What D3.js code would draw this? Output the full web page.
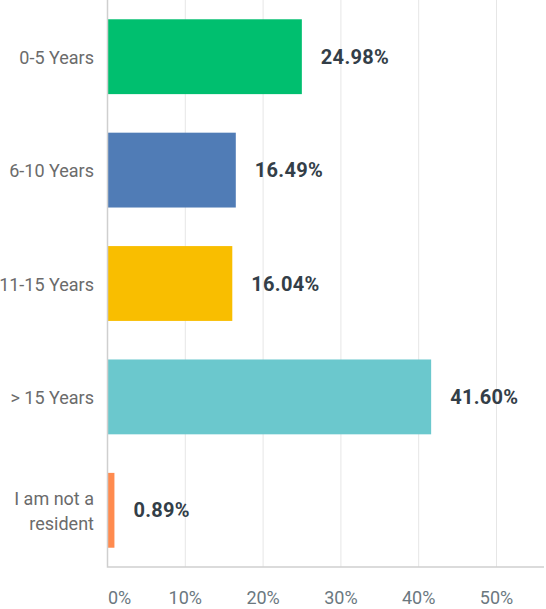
<!DOCTYPE html>
<html>
<head>
<meta charset="utf-8">
<script src="https://cdn.jsdelivr.net/npm/d3@7"></script>
<style>
  body { margin: 0; background: #fff; }
  text { font-family: Roboto, "Open Sans", sans-serif; }
  .cat { fill: #6b6b6b; font-size: 18px; }
  .val { fill: #333e48; font-size: 20px; font-weight: bold; letter-spacing: 0.3px; }
  .tick-label { fill: #6b787f; font-size: 18px; }
</style>
</head>
<body>
<div id="chart"></div>
<script>
// answer categories, top to bottom
let categories = ['0-5 Years', '6-10 Years', '11-15 Years', '> 15 Years', 'I am not a resident'];
// share of respondents, percent
let values = [24.98, 16.49, 16.04, 41.60, 0.89];
let barColors = ['#00bf6f', '#507cb6', '#f9be00', '#6bc8cd', '#ff8b4f'];
let xTicks = [0, 10, 20, 30, 40, 50];

let width = 546;
let height = 609;
let left = 107.5;
let plotBottom = 567;

let xScale = d3.scaleLinear()
    .domain([0, 50])
    .range([left, left + 389]);

let yScale = d3.scaleBand()
    .domain(categories)
    .range([0, plotBottom])
    .paddingInner(0.34)
    .paddingOuter(0.17);

let svg = d3.select('#chart')
    .append('svg')
    .attr('width', width)
    .attr('height', height);

// vertical gridlines
svg.append('g').selectAll('line')
    .data(xTicks.slice(1))
    .enter()
    .append('line')
    .attr('x1', d => xScale(d))
    .attr('x2', d => xScale(d))
    .attr('y1', 0)
    .attr('y2', plotBottom)
    .style('stroke', '#e6e6e6')
    .style('stroke-width', 1);

// bars
svg.append('g').selectAll('rect')
    .data(categories)
    .enter()
    .append('rect')
    .attr('x', xScale(0))
    .attr('y', d => yScale(d))
    .attr('width', (d, i) => xScale(values[i]) - xScale(0))
    .attr('height', yScale.bandwidth())
    .style('fill', (d, i) => barColors[i]);

// axis lines
svg.append('path')
    .attr('d', 'M' + left + ',0V' + plotBottom + 'H' + (width - 2))
    .style('fill', 'none')
    .style('stroke', '#cfcfcf')
    .style('stroke-width', 1.5);

// category labels, wrap the long one on two lines
let catLines = {
  'I am not a resident': ['I am not a', 'resident']
};
svg.append('g').selectAll('text')
    .data(categories)
    .enter()
    .append('text')
    .classed('cat', true)
    .attr('text-anchor', 'end')
    .each(function(d) {
      let lines = catLines[d] || [d];
      let cy = yScale(d) + yScale.bandwidth() / 2;
      let t = d3.select(this);
      lines.forEach((line, i) => {
        t.append('tspan')
            .attr('x', 94)
            .attr('y', cy + 7 + (i - (lines.length - 1) / 2) * 25)
            .text(line);
      });
    });

// value labels
svg.append('g').selectAll('text')
    .data(categories)
    .enter()
    .append('text')
    .classed('val', true)
    .attr('x', (d, i) => xScale(values[i]) + 19)
    .attr('y', d => yScale(d) + yScale.bandwidth() / 2 + 7)
    .text((d, i) => values[i].toFixed(2) + '%');

// x tick labels
svg.append('g').selectAll('text')
    .data(xTicks)
    .enter()
    .append('text')
    .classed('tick-label', true)
    .attr('x', d => d === 0 ? xScale(0) + 0.5 : xScale(d))
    .attr('y', 604)
    .attr('text-anchor', d => d === 0 ? 'start' : 'middle')
    .text(d => d + '%');
</script>
</body>
</html>
